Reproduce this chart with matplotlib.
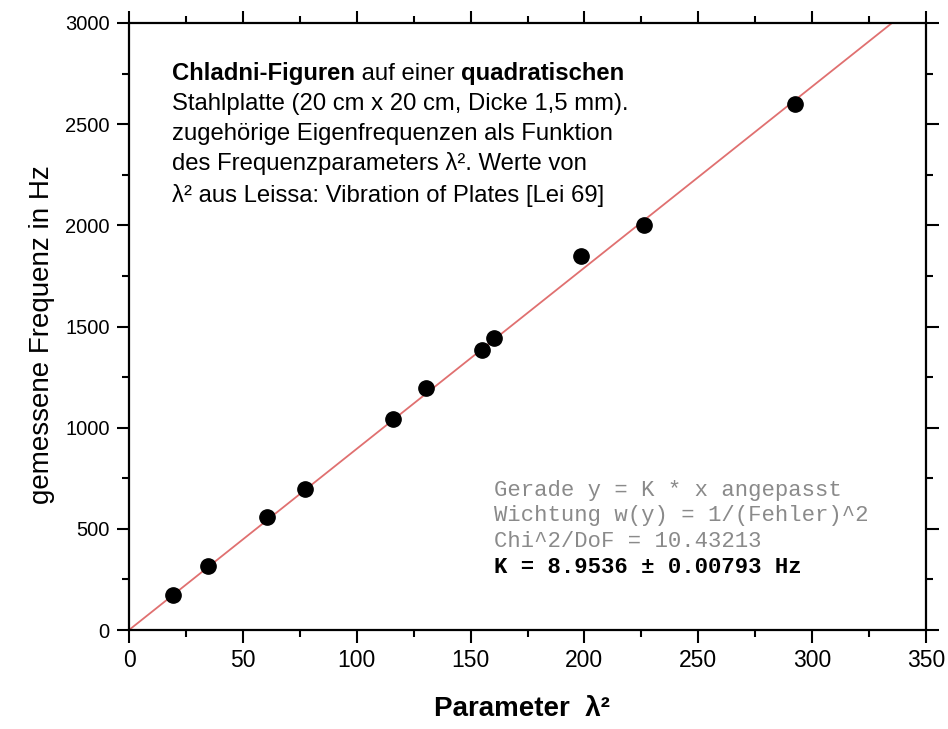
import numpy as np
from matplotlib import pyplot as plt
from matplotlib.ticker import MultipleLocator

# lambda^2 values (Leissa) and measured eigenfrequencies in Hz
lam2 = [19.2, 34.9, 60.7, 77.3, 116.1, 130.5, 155.0, 160.2, 198.6, 226.1, 292.4]
freq = [175, 315, 560, 695, 1045, 1195, 1385, 1445, 1850, 2000, 2600]
K = 8.9536  # fitted slope, Hz

x_ticks = [0, 50, 100, 150, 200, 250, 300, 350]
y_ticks = [0, 500, 1000, 1500, 2000, 2500, 3000]

info_lines = ['Stahlplatte (20 cm x 20 cm, Dicke 1,5 mm).',
              'zugehörige Eigenfrequenzen als Funktion',
              'des Frequenzparameters λ². Werte von',
              'λ² aus Leissa: Vibration of Plates [Lei 69]']
fit_lines = ['Gerade y = K * x angepasst',
             'Wichtung w(y) = 1/(Fehler)^2',
             'Chi^2/DoF = 10.43213']
fit_result = 'K = 8.9536 ± 0.00793 Hz'

plt.rcParams['font.family'] = ['Liberation Sans', 'DejaVu Sans']

fig = plt.figure(figsize=(9.48, 7.29), dpi=100)
ax = fig.add_axes([129 / 948, 1 - 630 / 729, 797 / 948, 607 / 729])

x_fit = np.array([0, 3000 / K])
ax.plot(x_fit, K * x_fit, color='#e07070', lw=1.3, zorder=2)
ax.plot(lam2, freq, 'o', color='black', ms=11, zorder=3)

ax.set_xlim(0, 350)
ax.set_ylim(0, 3000)
ax.set_xticks(x_ticks)
ax.set_yticks(y_ticks)
ax.xaxis.set_minor_locator(MultipleLocator(25))
ax.yaxis.set_minor_locator(MultipleLocator(250))

for s in ax.spines.values():
    s.set_linewidth(1.6)
ax.tick_params(which='both', direction='out', top=True, right=True, width=1.5)
ax.tick_params(which='major', length=9, pad=5)
ax.tick_params(which='minor', length=5)
ax.tick_params(axis='x', labelsize=16.5)
ax.tick_params(axis='y', labelsize=14.5)

ax.set_ylabel('gemessene Frequenz in Hz', fontsize=20)
ax.yaxis.set_label_coords(-0.093, 0.486)
ax.set_xlabel('Parameter  λ²', fontsize=20, fontweight='bold')
ax.xaxis.set_label_coords(0.493, -0.108)

# description box, first line mixes bold and regular
fs = 17.2
y_base = [80, 110, 140, 170, 202]
x0 = (172 - 129) / 797
t = ax.text(x0, (630 - y_base[0]) / 607, 'Chladni-Figuren', fontsize=fs,
            fontweight='bold', transform=ax.transAxes, va='baseline')
t = ax.annotate(' auf einer ', xy=(1, 0), xycoords=t, fontsize=fs, va='bottom')
t = ax.annotate('quadratischen', xy=(1, 0), xycoords=t, fontsize=fs,
                fontweight='bold', va='bottom')
for line, yb in zip(info_lines, y_base[1:]):
    ax.text(x0, (630 - yb) / 607, line, fontsize=fs, transform=ax.transAxes,
            va='baseline')

# fit results
fx = (494 - 129) / 797
fit_base = [496, 521, 547, 573]
for line, yb in zip(fit_lines, fit_base[:3]):
    ax.text(fx, (630 - yb) / 607, line, fontsize=16, family='Liberation Mono',
            color='#8a8a8a', transform=ax.transAxes, va='baseline')
ax.text(fx, (630 - fit_base[3]) / 607, fit_result, fontsize=16,
        family='Liberation Mono', fontweight='bold', color='black',
        transform=ax.transAxes, va='baseline')

plt.savefig('out.png', dpi=100)
